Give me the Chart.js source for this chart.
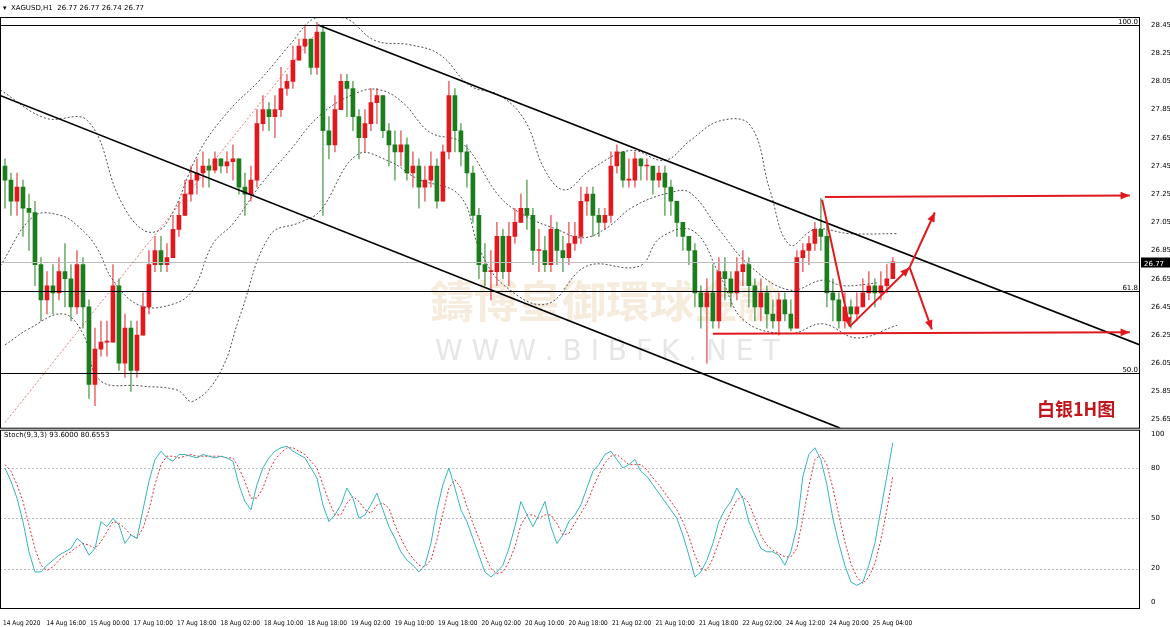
<!DOCTYPE html>
<html><head><meta charset="utf-8">
<script src="https://cdn.jsdelivr.net/npm/chart.js@4"></script>
<style>html,body{margin:0;padding:0;background:#fff}#w{width:1170px;height:627px}</style>
</head><body><div id="w"><canvas id="c"></canvas></div>
<script>
const firstOpen = 27.45;
const closes = [27.35,27.2,27.3,27.15,27.12,26.75,26.5,26.6,26.55,26.7,
26.65,26.45,26.75,26.45,25.9,26.15,26.2,26.2,26.6,26.05,
26.3,26.0,26.25,26.45,26.75,26.85,26.75,26.8,27.0,27.1,
27.25,27.35,27.4,27.45,27.42,27.5,27.45,27.48,27.5,27.3,
27.25,27.35,27.75,27.85,27.8,27.85,28.0,28.05,28.2,28.3,
28.35,28.15,28.4,27.7,27.6,27.85,28.05,28.0,27.8,27.65,
27.75,27.9,27.95,27.7,27.6,27.55,27.6,27.4,27.45,27.3,
27.35,27.45,27.2,27.55,27.95,27.7,27.55,27.4,27.1,26.75,
26.7,26.7,26.95,26.7,26.95,27.05,27.15,27.1,26.85,26.85,
26.75,27.0,26.85,26.8,26.9,26.95,27.2,27.25,27.1,27.05,
27.1,27.45,27.55,27.35,27.35,27.5,27.45,27.45,27.35,27.4,
27.3,27.2,27.05,26.95,26.85,26.55,26.45,26.55,26.35,26.7,
26.65,26.55,26.7,26.75,26.6,26.45,26.55,26.4,26.35,26.5,
26.4,26.3,26.8,26.85,26.9,27.0,26.95,26.55,26.5,26.35,
26.45,26.4,26.45,26.55,26.6,26.55,26.6,26.65,26.77];
const highs = [27.5,27.4,27.4,27.35,27.25,27.2,26.8,26.7,26.75,26.8,
26.9,26.75,26.85,26.8,26.5,26.3,26.35,26.35,26.75,26.65,
26.4,26.35,26.35,26.55,26.85,26.95,26.95,26.9,27.1,27.2,
27.35,27.45,27.5,27.55,27.5,27.55,27.5,27.55,27.6,27.5,
27.4,27.45,27.85,27.95,27.9,27.95,28.15,28.1,28.3,28.35,
28.45,28.35,28.47,28.45,27.8,27.95,28.1,28.1,28.05,27.85,
27.85,28.0,28.0,27.95,27.75,27.7,27.7,27.65,27.55,27.5,
27.45,27.55,27.5,27.6,28.05,28.0,27.75,27.6,27.45,27.15,
26.9,26.85,27.05,27.0,27.05,27.15,27.25,27.35,27.15,27.0,
26.95,27.1,27.05,26.95,27.05,27.05,27.3,27.3,27.3,27.15,
27.15,27.55,27.6,27.55,27.5,27.55,27.5,27.5,27.45,27.45,
27.45,27.35,27.2,27.05,26.95,26.9,26.6,26.65,26.75,26.8,
26.8,26.7,26.8,26.85,26.8,26.65,26.65,26.6,26.5,26.55,
26.55,26.5,26.85,26.9,26.95,27.05,27.22,27.05,26.65,26.55,
26.55,26.5,26.55,26.65,26.7,26.65,26.7,26.75,26.8];
const lows = [27.15,27.1,27.1,26.95,26.85,26.6,26.35,26.4,26.4,26.5,
26.45,26.35,26.4,26.3,25.8,25.75,26.1,26.1,26.2,26.0,
25.95,25.85,25.95,26.25,26.4,26.7,26.7,26.7,26.8,26.95,
27.1,27.2,27.25,27.3,27.3,27.4,27.4,27.4,27.35,27.25,
27.1,27.2,27.3,27.7,27.7,27.65,27.8,27.95,28.0,28.2,
28.25,28.1,28.1,27.1,27.5,27.55,27.85,27.8,27.7,27.5,
27.55,27.7,27.75,27.65,27.45,27.35,27.45,27.35,27.3,27.15,
27.2,27.3,27.15,27.2,27.5,27.55,27.45,27.3,27.05,26.65,
26.6,26.5,26.6,26.65,26.6,26.9,27.05,27.0,26.75,26.7,
26.7,26.7,26.75,26.7,26.75,26.85,26.9,27.1,26.95,26.95,
27.0,27.05,27.4,27.3,27.3,27.3,27.35,27.35,27.25,27.3,
27.1,27.1,26.95,26.85,26.75,26.45,26.3,26.05,26.3,26.3,
26.5,26.45,26.5,26.6,26.45,26.35,26.35,26.3,26.3,26.25,
26.35,26.28,26.3,26.7,26.75,26.85,26.85,26.45,26.35,26.3,
26.3,26.3,26.35,26.45,26.5,26.45,26.5,26.55,26.74];
const stochK = [80,72,62,48,30,18,18,22,25,28,
30,32,38,35,28,32,48,45,50,46,
35,40,38,55,72,85,90,86,84,88,
88,87,86,88,87,86,87,86,84,70,
60,55,70,80,86,90,92,93,90,88,
86,80,74,58,48,52,58,68,62,50,
52,58,65,55,45,38,30,25,22,18,
22,35,55,70,80,68,55,48,38,28,
18,15,18,22,32,45,60,52,45,52,
60,45,35,40,48,52,58,68,78,82,
88,90,85,80,82,85,78,75,70,65,
60,55,50,40,28,15,18,25,35,48,
55,60,68,62,48,40,32,30,30,28,
22,30,45,75,88,92,85,70,50,35,
22,12,10,12,22,35,55,75,95];
const stochD = [82,78,70,60,46,32,22,19,21,25,
28,30,33,35,34,32,36,42,48,47,
44,40,38,44,55,70,82,87,87,86,
87,88,87,87,87,87,87,86,86,80,
72,62,62,68,78,85,89,92,92,90,
88,84,80,70,60,52,52,59,63,60,
55,53,58,59,56,46,38,31,26,22,
21,25,37,53,68,73,68,57,47,38,
28,20,17,18,24,33,46,52,52,50,
52,52,47,40,41,47,53,59,68,76,
83,87,88,85,82,82,82,79,74,70,
65,60,55,48,39,28,20,19,26,36,
46,54,61,63,59,50,40,34,31,29,
27,27,32,50,69,85,88,82,68,52,
36,23,15,11,15,23,37,55,75];
// Bollinger bands: [bar index, price]
const bandUpper = [[-0.8,27.99],[6.7,27.79],[13.8,27.77],[19.2,27.21],[23.3,26.99],[26.7,27.03],[32.5,27.56],[37.5,27.85],[42.5,28.06],[47.5,28.31],[51.7,28.50],[56.7,28.50],[61.7,28.34],[67.5,28.31],[72.5,28.24],[77.5,28.02],[82.5,27.95],[86.7,27.77],[90,27.42],[93.3,27.28],[97.5,27.42],[104.2,27.56],[110,27.49],[114.2,27.63],[119.2,27.77],[124.2,27.74],[127.5,27.28],[130.8,26.89],[135,27.0],[140.8,26.97],[148.7,26.97]];
const bandMiddle = [[-0.8,26.74],[4.7,27.09],[9.2,27.10],[12.5,27.01],[15.3,26.87],[18,26.64],[22.5,26.46],[28,26.47],[31.3,26.57],[34.7,26.90],[38,27.04],[42.5,27.31],[47.5,27.56],[52.5,27.81],[58.7,27.97],[62.5,27.99],[66.3,27.90],[70.8,27.69],[76.3,27.61],[82.5,27.23],[87,27.09],[92,27.0],[96.3,26.94],[100.3,27.01],[104.7,27.16],[110.8,27.26],[114.2,27.26],[119.2,26.99],[124.2,26.74],[130.8,26.57],[136.3,26.64],[139.7,26.60],[145.3,26.62]];
const bandLower = [[0,26.18],[4.2,26.30],[9.7,26.40],[13,26.26],[15.8,25.93],[22.5,25.89],[28.7,25.86],[31.3,25.78],[35.8,25.98],[39.2,26.39],[44.2,26.96],[49.2,27.05],[52.5,27.13],[58.7,27.53],[64.2,27.48],[68.7,27.36],[75.8,27.24],[79.2,26.85],[83.3,26.60],[90.3,26.47],[97,26.74],[105.8,26.74],[109.2,26.94],[114.7,26.99],[119.2,26.67],[123.3,26.35],[130.8,26.26],[136.3,26.33],[142,26.23],[148.7,26.32]];
const timeLabels = ["14 Aug 2020","14 Aug 16:00","15 Aug 00:00","17 Aug 10:00","17 Aug 18:00","18 Aug 02:00","18 Aug 10:00","18 Aug 18:00","19 Aug 02:00","19 Aug 10:00","19 Aug 18:00","20 Aug 02:00","20 Aug 10:00","20 Aug 18:00","21 Aug 02:00","21 Aug 10:00","21 Aug 18:00","22 Aug 02:00","24 Aug 12:00","24 Aug 20:00","25 Aug 04:00"];
const priceTicks = [28.45,28.25,28.05,27.85,27.65,27.45,27.25,27.05,26.85,26.65,26.45,26.25,26.05,25.85,25.65];
const stochTicks = [0,20,50,80,100];
const stochLevels = [20,50,80];
const fibLevels = [[28.45,"100.0"],[26.56,"61.8"],[25.98,"50.0"]];
const lastPrice = 26.77;
const channelLines = [[[52.2,28.45],[189.2,26.18]],[[-0.83,27.95],[139.2,25.59]]];
const redLines = [[[136.7,27.23],[187.5,27.24]],[[118,26.26],[187.5,26.27]]];
const redArrows = [[[136.2,27.21],[140.8,26.31]],[[140.8,26.31],[150.8,26.73]],[[150.8,26.73],[155,27.12]],[[150.8,26.73],[154.5,26.29]]];
const dottedTrend = [[0,25.63],[52,28.4]];
const stepPerLabel = 7.25;

const RED='#e0191f', GREEN='#1b7d1b';
const opens = closes.map((c,i)=> i===0 ? firstOpen : closes[i-1]);
const col = closes.map((c,i)=> c>=opens[i] ? RED : GREEN);
const wickCol = closes.map((c,i)=> c>=opens[i] ? 'rgba(224,25,31,0.6)' : 'rgba(27,125,27,0.6)');
const bandDs = arr => ({type:'line',data:arr.map(p=>({x:p[0],y:p[1]})),borderColor:'#222',borderWidth:0.8,borderDash:[2,2],pointRadius:0,tension:0.4,yAxisID:'y',order:5});

const overlay = {
  id:'overlay',
  beforeDatasetsDraw(chart){
    const ctx=chart.ctx, ys=chart.scales.y, y2=chart.scales.y2, a=chart.chartArea;
    ctx.save();
    ctx.strokeStyle='#bbb'; ctx.lineWidth=1; ctx.setLineDash([2,2]);
    stochLevels.forEach(v=>{const y=Math.round(y2.getPixelForValue(v))+0.5;ctx.beginPath();ctx.moveTo(a.left,y);ctx.lineTo(a.right,y);ctx.stroke();});
    ctx.setLineDash([]);
    ctx.beginPath(); ctx.rect(a.left,a.top,a.right-a.left,ys.bottom-a.top); ctx.clip();
    ctx.fillStyle='rgba(230,200,160,0.35)'; ctx.font='bold 44px "Noto Sans CJK SC"';
    ctx.fillText('鑄博皇御環球金融',430,318);
    ctx.font='28px "DejaVu Sans"'; ctx.fillStyle='rgba(200,200,200,0.45)';
    ctx.fillText('W W W . B I B F K . N E T',435,360);
    ctx.restore();
  },
  afterDatasetsDraw(chart){
    const ctx=chart.ctx, xs=chart.scales.x, ys=chart.scales.y, y2=chart.scales.y2, a=chart.chartArea;
    const P=(p)=>[xs.getPixelForValue(p[0]), ys.getPixelForValue(p[1])];
    ctx.save();
    ctx.beginPath(); ctx.rect(a.left,a.top,a.right-a.left,ys.bottom-a.top); ctx.clip();
    ctx.strokeStyle='#000'; ctx.lineWidth=1.2; ctx.font='7px "DejaVu Sans"'; ctx.fillStyle='#000';
    fibLevels.forEach(f=>{const y=Math.round(ys.getPixelForValue(f[0]))+0.5;ctx.beginPath();ctx.moveTo(a.left,y);ctx.lineTo(a.right,y);ctx.stroke();ctx.textAlign='right';ctx.fillText(f[1],a.right-2,y-2);});
    ctx.strokeStyle='#bbb'; ctx.lineWidth=1; const ly=Math.round(ys.getPixelForValue(lastPrice))+0.5;
    ctx.beginPath();ctx.moveTo(a.left,ly);ctx.lineTo(a.right,ly);ctx.stroke();
    ctx.strokeStyle='#000'; ctx.lineWidth=1.6;
    channelLines.forEach(l=>{const p=P(l[0]),q=P(l[1]);ctx.beginPath();ctx.moveTo(...p);ctx.lineTo(...q);ctx.stroke();});
    ctx.strokeStyle='rgba(220,40,40,0.8)'; ctx.lineWidth=0.8; ctx.setLineDash([2,2]);
    {const p=P(dottedTrend[0]),q=P(dottedTrend[1]);ctx.beginPath();ctx.moveTo(...p);ctx.lineTo(...q);ctx.stroke();}
    ctx.setLineDash([]);
    ctx.strokeStyle=RED; ctx.fillStyle=RED; ctx.lineWidth=2;
    const arrow=(p,q)=>{ctx.beginPath();ctx.moveTo(...p);ctx.lineTo(...q);ctx.stroke();
      const ang=Math.atan2(q[1]-p[1],q[0]-p[0]),L=10;ctx.beginPath();ctx.moveTo(...q);
      ctx.lineTo(q[0]-L*Math.cos(ang-0.4),q[1]-L*Math.sin(ang-0.4));ctx.lineTo(q[0]-L*Math.cos(ang+0.4),q[1]-L*Math.sin(ang+0.4));ctx.closePath();ctx.fill();};
    redLines.forEach(l=>arrow(P(l[0]),P(l[1])));
    redArrows.forEach(l=>arrow(P(l[0]),P(l[1])));
    ctx.restore();
    ctx.save();
    ctx.fillStyle='#c0151b'; ctx.font='bold 18px "Noto Sans CJK SC"'; ctx.textAlign='left';
    ctx.fillText('白银1H图',1037,416);
    ctx.fillStyle='#000'; ctx.font='7px "DejaVu Sans"';
    ctx.fillText('▾  XAGUSD,H1  26.77 26.77 26.74 26.77',3,10);
    ctx.fillText('Stoch(9,3,3) 93.6000 80.6553',4,437);
    ctx.strokeStyle='#000'; ctx.lineWidth=1;
    ctx.strokeRect(a.left+0.5,a.top+0.5,a.right-a.left-1,ys.bottom-a.top);
    ctx.strokeRect(a.left+0.5,y2.top+2.5,a.right-a.left-1,y2.bottom-y2.top-2);
    ctx.fillStyle='#000'; ctx.fillRect(a.right+1,ly-5,29,10);
    ctx.fillStyle='#fff'; ctx.font='7px "DejaVu Sans"'; ctx.fillText('26.77',a.right+4,ly+3);
    ctx.restore();
  }
};

new Chart(document.getElementById('c'),{
  data:{datasets:[
    {type:'bar',data:closes.map((c,i)=>({x:i,y:[lows[i],highs[i]]})),backgroundColor:wickCol,barThickness:1,grouped:false,yAxisID:'y',order:2},
    {type:'bar',data:closes.map((c,i)=>({x:i,y:[opens[i],c]})),backgroundColor:col,barThickness:4,grouped:false,yAxisID:'y',order:1,minBarLength:1},
    bandDs(bandUpper), bandDs(bandMiddle), bandDs(bandLower),
    {type:'line',data:stochK.map((v,i)=>({x:i,y:v})),borderColor:'#35b5bd',borderWidth:1,pointRadius:0,tension:0,yAxisID:'y2'},
    {type:'line',data:stochD.map((v,i)=>({x:i,y:v})),borderColor:'#e03030',borderWidth:1,borderDash:[2,2],pointRadius:0,tension:0,yAxisID:'y2'}
  ]},
  options:{responsive:true,maintainAspectRatio:false,animation:false,
    layout:{padding:{top:17,left:0,right:0,bottom:0}},
    plugins:{legend:{display:false},tooltip:{enabled:false}},
    scales:{
      x:{type:'linear',min:-0.83,max:189.2,offset:false,grid:{display:false},border:{display:false},
        afterBuildTicks(s){s.ticks=timeLabels.map((l,k)=>({value:k*stepPerLabel-0.33}));},
        afterFit(s){s.height=19;},
        ticks:{autoSkip:false,maxRotation:0,align:'start',padding:3,font:{size:6.5,family:'DejaVu Sans Condensed'},color:'#000',callback:(v,k)=>timeLabels[k]}},
      y:{position:'right',stack:'s',stackWeight:410,min:25.593,max:28.507,grid:{display:false},border:{display:false},
        afterBuildTicks(s){s.ticks=priceTicks.map(v=>({value:v}));},
        afterFit(s){s.width=30;},
        ticks:{font:{size:7,family:'DejaVu Sans'},color:'#000',padding:3,callback:v=>v.toFixed(2)}},
      y2:{position:'right',stack:'s',stackWeight:180,min:-3.5,max:104,border:{display:false},grid:{display:false},
        afterBuildTicks(s){s.ticks=stochTicks.map(v=>({value:v}));},
        afterFit(s){s.width=30;},
        ticks:{font:{size:7,family:'DejaVu Sans'},color:'#000',padding:3}}
    }}
  ,plugins:[overlay]
});
</script></body></html>
